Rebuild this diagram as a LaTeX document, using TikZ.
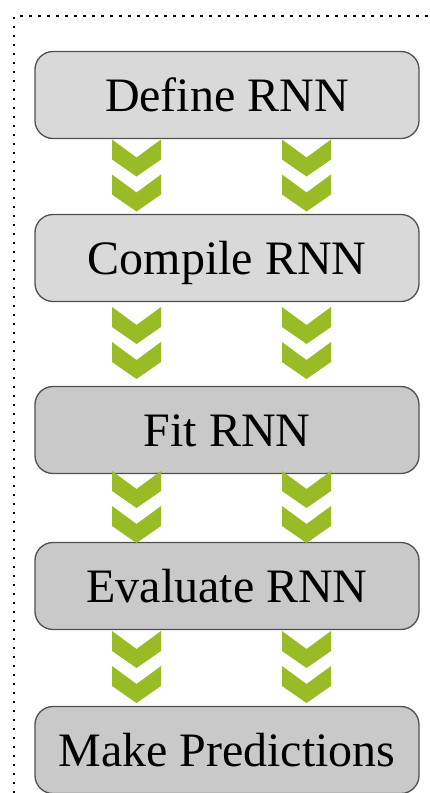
\documentclass[tikz,border=0pt]{standalone}
\usepackage{fontspec}
\setmainfont{Liberation Serif}
\usetikzlibrary{positioning, calc}
\definecolor{grisclaro}{HTML}{D9D9D9}
\definecolor{grisoscuro}{HTML}{C9C9C9}
\definecolor{borde}{HTML}{505050}
\definecolor{verdeh}{HTML}{99BC26}

\begin{document}
\begin{tikzpicture}[
    x=1pt, y=1pt,
    caja/.style={rectangle, draw=borde, line width=1.3pt, fill=grisclaro, rounded corners=18pt, minimum width=384pt, minimum height=87pt, inner sep=0pt, outer sep=0pt, text height=32pt, text depth=0pt, align=center, font=\fontsize{48}{56}\selectfont},
    cajaosc/.style={caja, fill=grisoscuro},
    marco/.style={line width=1.8pt, dash pattern=on 2.5pt off 6.5pt},
    chevron/.pic={\fill[verdeh] (-24.5,0) -- (0,-18) -- (24.5,0) -- (24.5,-20) -- (0,-37) -- (-24.5,-20) -- cycle;}
]
\useasboundingbox (0,0) rectangle (430,-793);

\draw [marco] (14,-793) -- (14,-16) -- (430,-16);

\node (definir) [caja] at (227,-95) {Define RNN};

\node (compilar) [caja, below=76pt of definir] {Compile RNN};

\node (ajustar) [cajaosc, below=85pt of compilar] {Fit RNN};

\node (evaluar) [cajaosc, below=69pt of ajustar] {Evaluate RNN};

\node (predecir) [cajaosc, below=77pt of evaluar] {Make Predictions};

\foreach \a/\b in {definir/compilar, compilar/ajustar, ajustar/evaluar, evaluar/predecir} {
  \foreach \dx in {-90.5, 79.5} {
    \pic at ($(\a.south)!0.5!(\b.north) + (\dx,37)$) {chevron};
    \pic at ($(\a.south)!0.5!(\b.north) + (\dx,2)$) {chevron};
  }
}

\end{tikzpicture}
\end{document}
